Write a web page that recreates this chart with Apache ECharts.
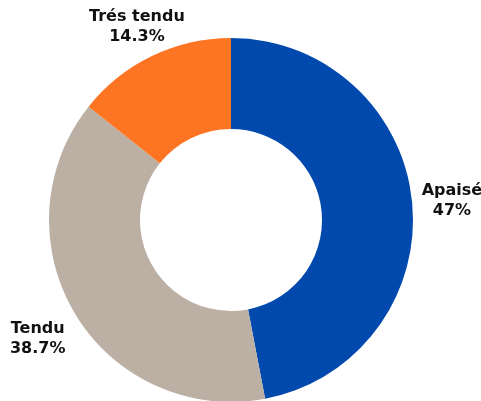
<!DOCTYPE html>
<html>
<head>
<meta charset="utf-8">
<script src="https://cdn.jsdelivr.net/npm/echarts@6/dist/echarts.min.js"></script>
<style>
  html, body { margin: 0; padding: 0; background: #fff; }
  #chart { width: 481px; height: 401px; }
</style>
</head>
<body>
<div id="chart"></div>
<script>
const categories = ['Apaisé', 'Tendu', 'Trés tendu']
const values = [47, 38.7, 14.3]
const colors = ['#0249ae', '#bcb0a5', '#fd7523']

const CENTER = [231, 220]

const chart = echarts.init(document.getElementById('chart'))

chart.setOption({
  animation: false,
  series: [
    {
      type: 'pie',
      center: CENTER,
      radius: [91, 182],
      startAngle: 90,
      clockwise: true,
      avoidLabelOverlap: false,
      data: categories.map((name, i) => ({
        name,
        value: values[i],
        itemStyle: { color: colors[i] }
      })),
      label: {
        show: true,
        position: 'outside',
        formatter: (p) => `${p.name}\n${p.value}%`,
        color: '#111',
        fontFamily: '"DejaVu Sans", sans-serif',
        fontWeight: 'bold',
        fontSize: 16,
        lineHeight: 20,
        overflow: 'none'
      },
      labelLine: { show: true, length: 20, length2: 0, lineStyle: { opacity: 0 } },
      // centre each label a bit outside the ring, along the slice's mid angle
      labelLayout: (p) => {
        const pts = p.labelLinePoints
        if (!pts) return {}
        const dx = pts[0][0] - CENTER[0]
        const dy = pts[0][1] - CENTER[1]
        const len = Math.hypot(dx, dy)
        const ux = dx / len
        const uy = dy / len
        const d = 40.5 + 6.5 * uy
        return {
          x: pts[0][0] + ux * d,
          y: pts[0][1] + uy * d + 2,
          align: 'center',
          verticalAlign: 'middle'
        }
      },
      emphasis: { disabled: true }
    }
  ]
})
</script>
</body>
</html>
